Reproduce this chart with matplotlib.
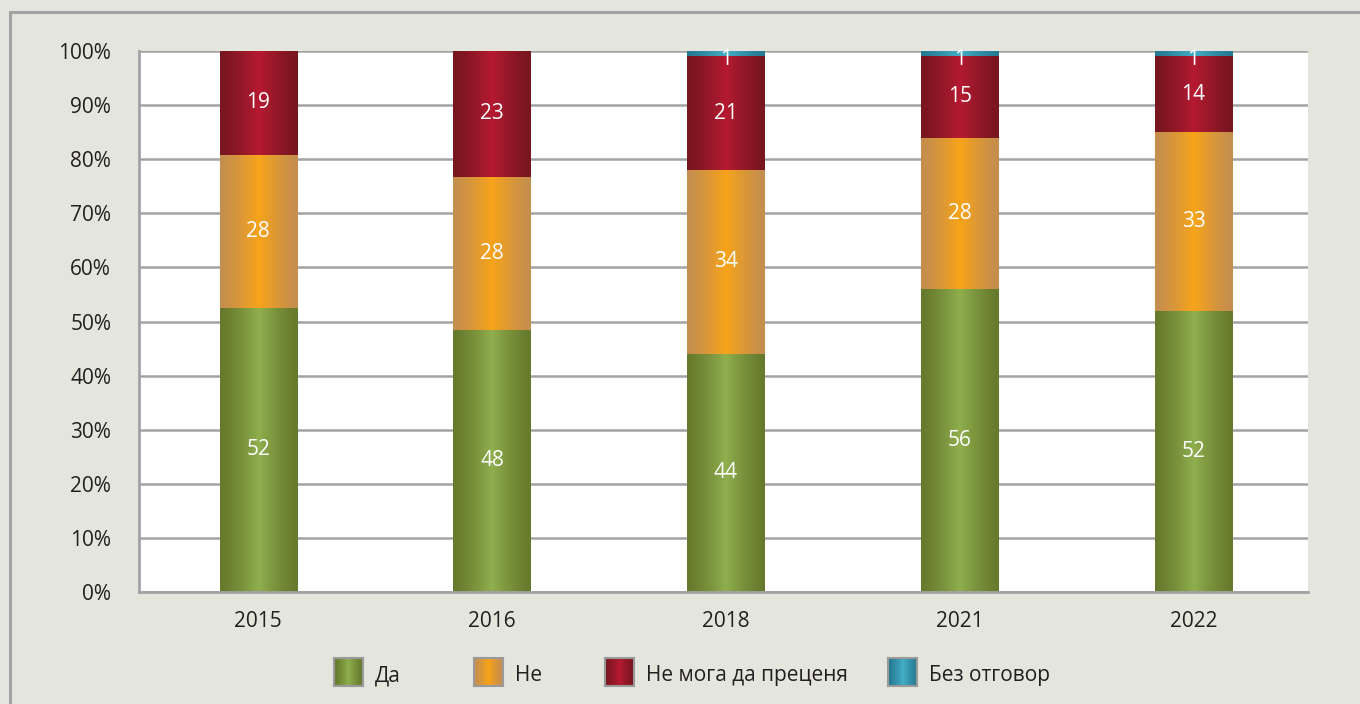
import numpy as np
import matplotlib.pyplot as plt
from matplotlib.colors import LinearSegmentedColormap
from matplotlib.patches import Rectangle

plt.rcParams['font.family'] = ['Open Sans', 'DejaVu Sans']

years = ["2015", "2016", "2018", "2021", "2022"]
series = ["Да", "Не", "Не мога да преценя", "Без отговор"]
da = [52, 48, 44, 56, 52]
ne = [28, 28, 34, 28, 33]
ne_moga = [19, 23, 21, 15, 14]
bez = [0, 0, 1, 1, 1]

# edge colour, centre colour for each series
shades = [("#667a2c", "#8fae4e"),
          ("#c58e4e", "#f7a41a"),
          ("#78161f", "#b51a32"),
          ("#267a92", "#44adc6")]

W, H = 1360, 704
bg = "#e4e6de"
fig = plt.figure(figsize=(W / 100, H / 100), dpi=100, facecolor=bg)
ax = fig.add_axes([139 / W, 1 - 592 / H, 1169 / W, 541 / H])
ax.set_facecolor("white")

# outer frame
fig.patches.append(Rectangle((10 / W, -0.1), 1.2, 1 - 12 / H + 0.1,
                             transform=fig.transFigure, fill=False,
                             edgecolor="#a3a3a3", linewidth=2.2, zorder=0))

data = np.array([da, ne, ne_moga, bez], dtype=float)
totals = data.sum(axis=0)
pct = data / totals * 100
x = np.arange(len(years))
width = 0.33

grad = np.concatenate([np.linspace(0, 1, 50) ** 1.3, np.linspace(1, 0, 50) ** 1.3])[None, :]
cmaps = [LinearSegmentedColormap.from_list(n, [shades[i][0], shades[i][1]])
         for i, n in enumerate(series)]

bottom = np.zeros(len(years))
for i, name in enumerate(series):
    bars = ax.bar(x, pct[i], width, bottom=bottom, color="none", edgecolor="none")
    for j, b in enumerate(bars):
        if pct[i][j] <= 0:
            continue
        bx, by = b.get_x(), b.get_y()
        ax.imshow(grad, cmap=cmaps[i], aspect="auto", zorder=2,
                  extent=[bx, bx + b.get_width(), by, by + b.get_height()])
        cy = by + b.get_height() / 2
        if pct[i][j] < 3:
            cy = by - 0.6
        ax.text(x[j], cy, f"{int(data[i][j])}", ha="center", va="center",
                color="white", fontsize=15, zorder=3)
    bottom += pct[i]

ax.set_xlim(-0.51, len(years) - 0.51)
ax.set_ylim(0, 100)
ax.set_yticks(np.arange(0, 101, 10))
ax.set_yticklabels([f"{v}%" for v in range(0, 101, 10)])
ax.set_xticks(x)
ax.set_xticklabels(years)
ax.tick_params(axis="both", length=0, labelsize=15, colors="#231f20")
ax.tick_params(axis="y", pad=20)
ax.tick_params(axis="x", pad=14)
ax.yaxis.grid(True, color="#a3a3a6", linewidth=1.8)
ax.set_axisbelow(True)
for s in ["top", "right"]:
    ax.spines[s].set_visible(False)
for s in ["left", "bottom"]:
    ax.spines[s].set_color("#a3a3a6")
    ax.spines[s].set_linewidth(2)

# legend with gradient swatches
hx = [334, 474, 605, 888]
for i, name in enumerate(series):
    hax = fig.add_axes([hx[i] / W, 1 - 686 / H, 29 / W, 28 / H])
    hax.imshow(grad, cmap=cmaps[i], aspect="auto")
    hax.set_xticks([])
    hax.set_yticks([])
    for s in hax.spines.values():
        s.set_color("#9a9a9a")
        s.set_linewidth(1.5)
    fig.text((hx[i] + 41) / W, 1 - 673 / H, name, ha="left", va="center_baseline",
             fontsize=15, color="#231f20")

fig.savefig("out.png", dpi=100, facecolor=bg)
